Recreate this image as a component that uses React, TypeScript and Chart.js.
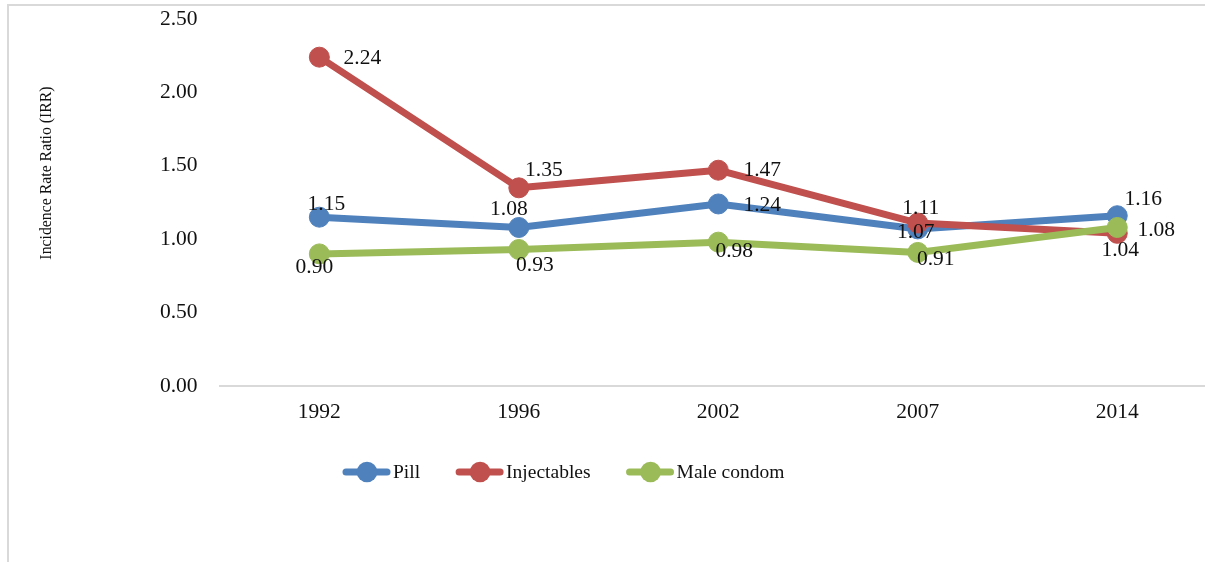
import React, { useEffect, useRef } from "react";
import { Chart, registerables } from "chart.js";

Chart.register(...registerables);

const years = ["1992", "1996", "2002", "2007", "2014"];
const pill = [1.15, 1.08, 1.24, 1.07, 1.16];
const injectables = [2.24, 1.35, 1.47, 1.11, 1.04];
const maleCondom = [0.9, 0.93, 0.98, 0.91, 1.08];
const seriesNames = ["Pill", "Injectables", "Male condom"];
const yTitle = "Incidence Rate Ratio (IRR)";

// label offsets (dx, dy) relative to each point, per series
const labelOffsets = [
  [[7, -13], [-10, -18], [44, 1], [-2, 3], [26, -16]],
  [[43, 1], [25, -17], [44, 0], [3, -15], [3, 17]],
  [[-5, 13], [16, 16], [16, 9], [18, 7], [39, 3]],
];

const COLORS = ["#4F81BD", "#C0504D", "#9BBB59"];
const NUM_FONT = '21.5px "Liberation Serif", serif';
const TEXT_COLOR = "#111111";

const CANVAS_W = 1230;
const CANVAS_H = 556;

const labelPlugin = {
  id: "pointLabels",
  afterDatasetsDraw(chart: any) {
    const ctx = chart.ctx;
    ctx.save();
    ctx.font = NUM_FONT;
    ctx.fillStyle = TEXT_COLOR;
    ctx.textAlign = "center";
    ctx.textBaseline = "middle";
    chart.data.datasets.forEach((ds: any, di: number) => {
      const meta = chart.getDatasetMeta(di);
      meta.data.forEach((el: any, i: number) => {
        const off = labelOffsets[di][i];
        ctx.fillText(Number(ds.data[i]).toFixed(2), el.x + off[0], el.y + off[1]);
      });
    });
    ctx.restore();
  },
};

const extrasPlugin = {
  id: "extras",
  afterDraw(chart: any) {
    const ctx = chart.ctx;
    ctx.save();
    // y-axis title
    ctx.font = '15.8px "Liberation Serif", serif';
    ctx.fillStyle = TEXT_COLOR;
    ctx.textAlign = "center";
    ctx.textBaseline = "middle";
    ctx.translate(39, 167);
    ctx.rotate(-Math.PI / 2);
    ctx.fillText(yTitle, 0, 0);
    ctx.restore();

    // legend
    ctx.save();
    ctx.font = '19.5px "Liberation Serif", serif';
    ctx.textBaseline = "middle";
    ctx.textAlign = "left";
    let x = 335;
    const y = 466;
    seriesNames.forEach((name, i) => {
      ctx.strokeStyle = COLORS[i];
      ctx.fillStyle = COLORS[i];
      ctx.lineWidth = 7;
      ctx.lineCap = "round";
      ctx.beginPath();
      ctx.moveTo(x + 3, y);
      ctx.lineTo(x + 44, y);
      ctx.stroke();
      ctx.beginPath();
      ctx.arc(x + 24, y, 10.3, 0, Math.PI * 2);
      ctx.fill();
      ctx.fillStyle = TEXT_COLOR;
      ctx.fillText(name, x + 50, y + 1);
      const w = ctx.measureText(name).width;
      x += 50 + w + 36;
    });
    ctx.restore();
  },
};

export default function App() {
  const ref = useRef<HTMLCanvasElement | null>(null);

  useEffect(() => {
    if (!ref.current) return;
    const series = [pill, injectables, maleCondom];
    const chart = new Chart(ref.current, {
      type: "line",
      data: {
        labels: years,
        datasets: series.map((d, i) => ({
          label: seriesNames[i],
          data: d,
          borderColor: COLORS[i],
          backgroundColor: COLORS[i],
          borderWidth: 7,
          pointRadius: 10,
          pointBorderWidth: 1,
          pointBorderColor: COLORS[i],
          pointBackgroundColor: COLORS[i],
          tension: 0,
          borderCapStyle: "round" as const,
          borderJoinStyle: "round" as const,
          order: 3 - i,
        })),
      },
      options: {
        responsive: false,
        animation: false,
        devicePixelRatio: 1,
        layout: { padding: { top: 13, right: 21, bottom: 0, left: 0 } },
        plugins: {
          legend: { display: false },
          tooltip: { enabled: false },
          title: { display: false },
        },
        scales: {
          x: {
            type: "category",
            offset: true,
            grid: { display: true, drawOnChartArea: false, drawTicks: false, color: "rgba(0,0,0,0)" },
            border: { display: true, color: "#d9d9d9", width: 2 },
            ticks: {
              padding: 13,
              color: TEXT_COLOR,
              font: { family: '"Liberation Serif", serif', size: 21.5 },
              maxRotation: 0,
            },
            afterFit: (scale: any) => {
              scale.height = 176;
            },
          },
          y: {
            min: 0,
            max: 2.5,
            grid: { display: false, drawTicks: false },
            border: { display: false },
            ticks: {
              stepSize: 0.5,
              padding: 22,
              color: TEXT_COLOR,
              font: { family: '"Liberation Serif", serif', size: 21.5 },
              callback: (v: any) => Number(v).toFixed(2),
            },
            afterFit: (scale: any) => {
              scale.width = 211.6;
              scale.paddingTop = 0;
              scale.paddingBottom = 0;
            },
          },
        },
      },
      plugins: [labelPlugin, extrasPlugin],
    });
    return () => chart.destroy();
  }, []);

  return (
    <div
      style={{
        position: "fixed",
        left: 0,
        top: 0,
        width: 1205,
        height: 562,
        overflow: "hidden",
        background: "#ffffff",
      }}
    >
      <div
        style={{
          position: "absolute",
          left: 7,
          top: 4,
          width: 1300,
          height: 600,
          borderTop: "2px solid #d9d9d9",
          borderLeft: "2px solid #d9d9d9",
          boxSizing: "border-box",
        }}
      />
      <canvas
        ref={ref}
        width={CANVAS_W}
        height={CANVAS_H}
        style={{ position: "absolute", left: 8, top: 6, width: CANVAS_W, height: CANVAS_H }}
      />
    </div>
  );
}
